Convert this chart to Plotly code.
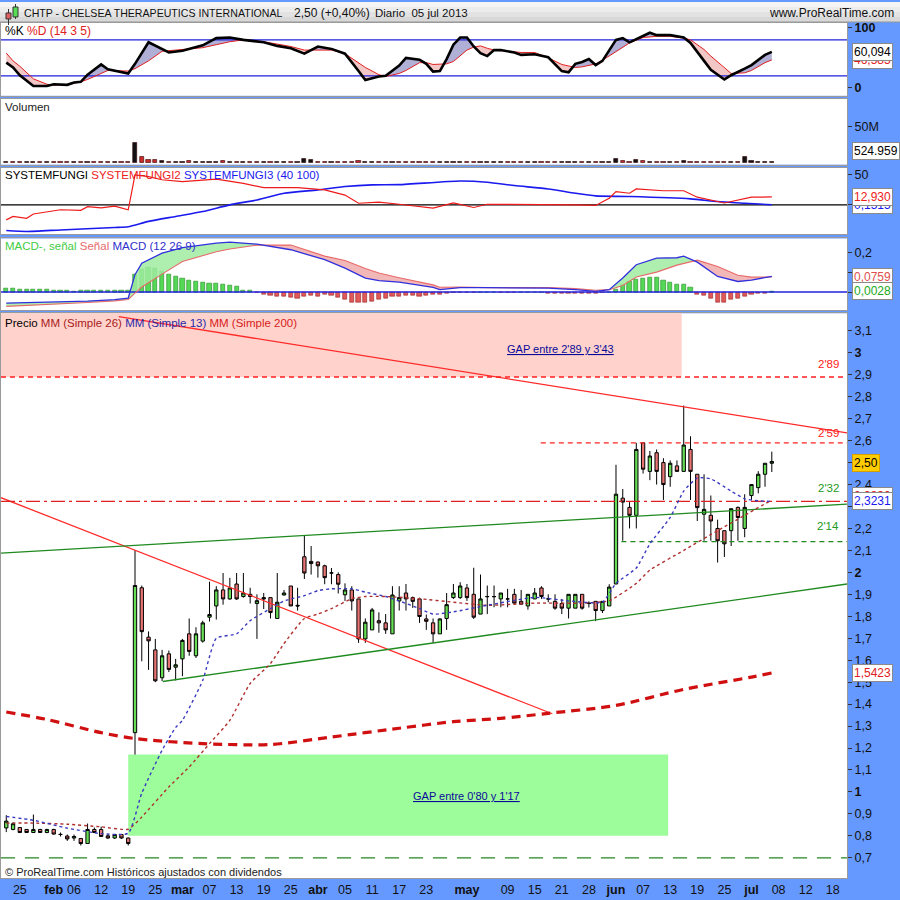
import pandas as pd
import plotly.graph_objects as go

# ---------------- calendar ----------------
holidays = ["2013-02-18", "2013-03-29", "2013-05-27", "2013-07-04"]
all_days = pd.bdate_range("2013-01-23", "2013-07-19")
trading_days = [d.strftime("%Y-%m-%d") for d in all_days if d.strftime("%Y-%m-%d") not in holidays]
day_index = {d: i for i, d in enumerate(trading_days)}

tick_dates = ["2013-01-25", "2013-02-01", "2013-02-06", "2013-02-12", "2013-02-19", "2013-02-25",
              "2013-03-01", "2013-03-07", "2013-03-13", "2013-03-19", "2013-03-25", "2013-04-01",
              "2013-04-05", "2013-04-11", "2013-04-17", "2013-04-23", "2013-05-01", "2013-05-09",
              "2013-05-15", "2013-05-21", "2013-05-28", "2013-06-03", "2013-06-07", "2013-06-13",
              "2013-06-19", "2013-06-25", "2013-07-01", "2013-07-08", "2013-07-12", "2013-07-18"]
tick_labels = ["25", "feb", "06", "12", "19", "25", "mar", "07", "13", "19", "25", "abr", "05", "11",
               "17", "23", "may", "09", "15", "21", "28", "jun", "07", "13", "19", "25", "jul", "08",
               "12", "18"]
month_labels = {"feb", "mar", "abr", "may", "jun", "jul"}

# ---------------- price data ----------------
opens = [0.836, 0.829, 0.838, 0.829, 0.815, 0.829, 0.815, 0.829, 0.807, 0.799,
         0.790, 0.788, 0.765, 0.829, 0.829, 0.800, 0.790, 0.806, 0.790, 1.27,
         1.93, 1.705, 1.647, 1.52, 1.629, 1.568, 1.606, 1.72, 1.62, 1.687,
         1.796, 1.847, 1.92, 1.879, 1.947, 1.89, 1.90, 1.858, 1.885, 1.885,
         1.79, 1.897, 1.938, 1.85, 2.071, 2.05, 2.047, 2.03, 1.998, 1.99,
         1.898, 1.92, 1.879, 1.697, 1.738, 1.78, 1.77, 1.72, 1.87, 1.906,
         1.885, 1.879, 1.788, 1.77, 1.72, 1.79, 1.885, 1.885, 1.929, 1.90,
         1.81, 1.889, 1.889, 1.879, 1.879, 1.90, 1.868, 1.847, 1.879, 1.929,
         1.879, 1.868, 1.858, 1.837, 1.837, 1.90, 1.86, 1.868, 1.826, 1.847,
         1.947, 2.338, 2.296, 2.26, 2.59, 2.46, 2.545, 2.50, 2.436, 2.485,
         2.46, 2.56, 2.447, 2.265, 2.26, 2.20, 2.19, 2.19, 2.296, 2.20,
         2.35, 2.386, 2.447, 2.497]
highs = [0.894, 0.862, 0.840, 0.831, 0.897, 0.832, 0.832, 0.832, 0.815, 0.806,
         0.806, 0.790, 0.856, 0.838, 0.842, 0.806, 0.806, 0.808, 0.792, 2.10,
         1.94, 1.731, 1.697, 1.647, 1.644, 1.606, 1.697, 1.79, 1.75, 1.78,
         1.958, 1.937, 1.997, 1.975, 1.997, 1.997, 1.93, 1.90, 1.906, 1.885,
         1.997, 1.92, 1.938, 1.93, 2.17, 2.12, 2.05, 2.035, 2.02, 2.00,
         1.95, 1.937, 1.879, 1.79, 1.838, 1.818, 1.81, 1.937, 1.937, 1.947,
         1.89, 1.885, 1.808, 1.79, 1.79, 1.906, 1.947, 1.955, 1.947, 2.021,
         1.99, 1.94, 1.94, 1.906, 1.925, 1.925, 1.92, 1.90, 1.929, 1.937,
         1.90, 1.90, 1.879, 1.90, 1.90, 1.90, 1.868, 1.868, 1.868, 1.946,
         2.49, 2.38, 2.32, 2.59, 2.59, 2.553, 2.56, 2.52, 2.51, 2.51,
         2.76, 2.62, 2.447, 2.447, 2.35, 2.24, 2.19, 2.29, 2.30, 2.356,
         2.40, 2.461, 2.497, 2.55]
lows = [0.817, 0.825, 0.813, 0.813, 0.813, 0.813, 0.812, 0.806, 0.797, 0.777,
        0.777, 0.756, 0.765, 0.813, 0.797, 0.786, 0.786, 0.786, 0.756, 1.17,
        1.595, 1.556, 1.50, 1.505, 1.546, 1.508, 1.527, 1.62, 1.61, 1.68,
        1.776, 1.785, 1.853, 1.875, 1.875, 1.885, 1.858, 1.697, 1.833, 1.79,
        1.79, 1.895, 1.847, 1.826, 1.97, 1.99, 1.976, 1.946, 1.946, 1.904,
        1.87, 1.826, 1.679, 1.679, 1.738, 1.725, 1.72, 1.72, 1.826, 1.826,
        1.838, 1.77, 1.738, 1.679, 1.72, 1.738, 1.879, 1.879, 1.87, 1.788,
        1.81, 1.81, 1.841, 1.841, 1.841, 1.855, 1.855, 1.83, 1.879, 1.879,
        1.864, 1.83, 1.81, 1.79, 1.837, 1.83, 1.84, 1.778, 1.815, 1.847,
        1.947, 2.144, 2.20, 2.20, 2.45, 2.42, 2.40, 2.33, 2.39, 2.46,
        2.46, 2.33, 2.234, 2.144, 2.144, 2.045, 2.07, 2.12, 2.144, 2.16,
        2.33, 2.36, 2.39, 2.457]
closes = [0.867, 0.855, 0.815, 0.815, 0.829, 0.815, 0.829, 0.808, 0.806, 0.786,
          0.797, 0.765, 0.829, 0.815, 0.797, 0.790, 0.806, 0.790, 0.765, 1.94,
          1.73, 1.688, 1.506, 1.62, 1.558, 1.579, 1.69, 1.64, 1.72, 1.77,
          1.808, 1.92, 1.879, 1.929, 1.879, 1.906, 1.89, 1.871, 1.879, 1.817,
          1.864, 1.906, 1.847, 1.847, 1.997, 2.04, 2.03, 1.976, 1.997, 1.946,
          1.92, 1.87, 1.697, 1.773, 1.829, 1.77, 1.738, 1.897, 1.885, 1.879,
          1.868, 1.799, 1.777, 1.72, 1.788, 1.853, 1.906, 1.938, 1.885, 1.796,
          1.879, 1.89, 1.89, 1.906, 1.879, 1.86, 1.855, 1.90, 1.906, 1.89,
          1.879, 1.837, 1.837, 1.90, 1.90, 1.837, 1.858, 1.826, 1.868, 1.933,
          2.356, 2.32, 2.26, 2.56, 2.47, 2.53, 2.46, 2.40, 2.497, 2.46,
          2.58, 2.46, 2.295, 2.287, 2.234, 2.144, 2.13, 2.29, 2.25, 2.296,
          2.40, 2.447, 2.497, 2.505]

volume_m = [1.2, 1.0, 1.5, 1.2, 1.0, 1.4, 1.1, 1.3, 1.0, 1.2,
            1.5, 1.3, 1.6, 1.2, 1.0, 1.1, 1.3, 1.2, 1.4, 27.0,
            8.0, 4.3, 3.5, 2.4, 1.8, 1.5, 1.6, 2.4, 1.4, 1.6,
            1.3, 1.4, 2.2, 1.5, 1.3, 1.4, 1.2, 1.5, 1.6, 1.2,
            1.3, 1.4, 1.5, 1.2, 5.7, 3.3, 1.8, 1.5, 1.6, 1.3,
            1.4, 1.5, 2.0, 1.4, 1.3, 1.6, 1.2, 1.4, 1.5, 1.3,
            1.5, 1.2, 1.3, 1.4, 1.2, 1.4, 1.1, 1.3, 1.2, 1.6,
            1.4, 1.3, 1.2, 1.1, 1.5, 1.2, 1.3, 1.2, 1.4, 1.2,
            1.1, 1.3, 1.2, 1.1, 1.3, 1.2, 1.4, 1.6, 1.5, 1.8,
            5.7, 2.5, 1.8, 3.3, 1.9, 1.6, 1.8, 1.5, 1.4, 1.3,
            1.9, 1.7, 1.6, 1.4, 1.5, 1.8, 1.4, 1.5, 1.7, 8.6,
            2.6, 1.6, 1.2, 0.52]

# moving averages (read at sample days)
ma13_idx = [0, 4, 9, 14, 18, 20, 23, 25, 26, 29, 31, 34, 36, 39, 41, 44, 46, 48, 51, 53,
            56, 58, 61, 63, 66, 71, 78, 83, 88, 90, 93, 95, 98, 100, 102, 104, 107, 109, 111, 113]
ma13 = [0.888, 0.871, 0.835, 0.81, 0.812, 0.994, 1.19, 1.294, 1.326, 1.508, 1.70, 1.72, 1.78, 1.835,
        1.87, 1.894, 1.917, 1.925, 1.925, 1.91, 1.89, 1.87, 1.835, 1.81, 1.82, 1.85, 1.886, 1.87,
        1.864, 1.95, 2.02, 2.13, 2.25, 2.37, 2.43, 2.426, 2.37, 2.335, 2.326, 2.323]
ma26_idx = [0, 4, 9, 14, 18, 20, 24, 27, 30, 33, 36, 39, 41, 44, 46, 48, 51, 53, 56, 61,
            66, 71, 78, 85, 89, 93, 95, 100, 105, 109, 113]
ma26 = [0.858, 0.858, 0.853, 0.841, 0.83, 0.886, 1.023, 1.114, 1.22, 1.326, 1.494, 1.585, 1.676,
        1.79, 1.81, 1.835, 1.88, 1.89, 1.89, 1.88, 1.864, 1.85, 1.86, 1.86, 1.871, 1.95, 2.01,
        2.10, 2.19, 2.26, 2.33]
ma200_idx = [0, 6, 14, 19, 29, 39, 48, 58, 66, 73, 80, 90, 100, 110, 113]
ma200 = [1.364, 1.33, 1.27, 1.243, 1.22, 1.216, 1.25, 1.29, 1.32, 1.335, 1.358, 1.394, 1.467,
         1.523, 1.542]

# drawn objects (trend lines, levels, gaps) in day-index / price units
red_trends = [((16.6, 3.165), (124.1, 2.635)), ((-0.78, 2.34), (80.6, 1.356))]
green_trends = [((-0.78, 2.088), (124.1, 2.311)), ((23.1, 1.503), (124.1, 1.947))]
levels = [  # price, start, end, colour, dash
    (2.89, -0.78, 124.1, "#ff2020", "5px,4px"),
    (2.59, 78.9, 124.1, "#ff2020", "5px,4px"),
    (2.323, -0.78, 124.1, "#e02020", "14px,4px,3px,4px"),
    (2.14, 90.8, 124.1, "#228822", "5px,4px"),
    (0.70, -0.78, 124.1, "#228822", "14px,10px"),
]
level_labels = [("2'89", 2.95, "#ff2020"), ("2'59", 2.635, "#ff2020"),
                ("2'32", 2.385, "#229922"), ("2'14", 2.212, "#229922")]
gap_high = (-0.78, 99.7, 2.89, 3.43)
gap_low = (18.0, 97.7, 0.80, 1.17)

# stochastic
stoch_idx = [0, 1, 2, 4, 6, 7, 9, 10, 11, 12, 14, 15, 18, 19, 21, 23, 24, 26, 29, 31,
             33, 35, 38, 40, 42, 44, 46, 48, 50, 52, 53, 55, 56, 58, 59, 61, 62, 63, 64, 65,
             66, 67, 68, 69, 70, 71, 72, 73, 75, 76, 78, 80, 82, 83, 84, 85, 86, 87, 88, 90,
             91, 92, 94, 95, 96, 98, 100, 101, 103, 104, 106, 107, 109, 110, 112, 113]
stoch_k = [42, 34, 21, 3, 3, 6, 5, 9, 10, 22, 39, 31, 24, 40, 76, 64, 59, 62, 71, 83,
           84, 80, 76, 70, 66, 57, 69, 65, 57, 28, 13, 19, 20, 37, 50, 47, 40, 27, 28, 48,
           72, 84, 84, 69, 58, 53, 63, 63, 59, 55, 56, 51, 28, 26, 40, 43, 48, 38, 45, 80,
           83, 76, 86, 92, 88, 88, 84, 75, 45, 30, 14, 21, 32, 38, 55, 60.094]
stoch_d = [58, 45, 36, 15, 6, 4.5, 5, 7, 10, 14, 24, 29, 28, 32, 45, 61, 62, 64, 67, 72,
           77, 80, 77, 73, 69, 63, 63, 63, 57, 42, 34, 22, 19, 24, 29, 42, 42, 39, 39, 40,
           44, 53, 63, 68, 70, 66, 63, 62, 60, 59, 59, 50, 39, 36, 34, 35, 37, 40, 46, 60,
           67, 75, 84, 85, 86, 86, 83, 80, 64, 53, 33, 24, 25, 29, 42, 46.585]

# SYSTEMFUNGI
sf2_idx = [0, 1, 3, 4, 8, 11, 12, 14, 16, 18, 19, 21, 23, 26, 31, 35, 38, 43, 47, 50,
           52, 55, 58, 63, 66, 69, 71, 75, 80, 84, 87, 89, 90, 92, 93, 97, 100, 102, 106, 108,
           110, 113]
sf2 = [-24.5, -19, -22, -15, -8, -9, -3, -5, -2, -8, 49, 46, 41, 38, 42, 35, 28, 28, 24.5, 16,
       2.6, 4.4, 1, -5.4, 3.3, -4.3, 1, 1, 1, 0, -1, 10.8, 21.7, 19, 26, 23, 23, 12.5, 3, 8,
       12.5, 12.93]
sf3_idx = [0, 3, 8, 16, 18, 21, 25, 29, 33, 37, 41, 46, 50, 54, 58, 67, 71, 75, 80, 84,
           87, 92, 101, 105, 109, 113]
sf3 = [-42, -43.5, -41, -37, -35.7, -27, -19, -11, 0, 8, 19, 24.5, 30, 32.6, 33, 39, 37, 31.5,
       26, 19, 14.7, 13.6, 9.8, 5.4, 2.7, 0.15]

# MACD
macd_idx = [0, 8, 12, 16, 18, 19, 20, 23, 26, 31, 33, 37, 42, 47, 50, 53, 55, 58, 63, 64,
            67, 71, 75, 80, 84, 87, 89, 91, 93, 96, 99, 100, 102, 105, 108, 110, 113]
macd_line = [-0.055, -0.05, -0.045, -0.038, -0.03, 0.087, 0.145, 0.195, 0.223, 0.245,
             0.25, 0.24, 0.212, 0.162, 0.12, 0.07, 0.057, 0.05, 0.023, 0.012,
             0.022, 0.022, 0.02, 0.02, 0.012, 0.003, 0.012, 0.07, 0.137, 0.17,
             0.172, 0.18, 0.15, 0.078, 0.053, 0.06, 0.0787]
macd_signal = [-0.072, -0.06, -0.052, -0.044, -0.037, -0.005, 0.025, 0.09, 0.153, 0.202,
               0.216, 0.235, 0.236, 0.18, 0.158, 0.118, 0.095, 0.072, 0.036, 0.024,
               0.025, 0.022, 0.023, 0.022, 0.017, 0.009, 0.012, 0.033, 0.075, 0.1,
               0.135, 0.143, 0.16, 0.128, 0.084, 0.075, 0.0759]
macd_hist = [0.017, 0.017, 0.012, 0.012, 0.012, 0.012, 0.012, 0.007, 0.007, 0.007,
             0.004, 0.007, 0.007, 0.007, 0.007, 0.007, 0.007, 0.007, 0.007, 0.087,
             0.112, 0.123, 0.117, 0.103, 0.087, 0.078, 0.067, 0.057, 0.053, 0.05,
             0.045, 0.042, 0.037, 0.033, 0.027, 0.01, 0.007, -0.003, -0.013, -0.017,
             -0.022, -0.022, -0.027, -0.03, -0.022, -0.017, -0.022, -0.013, -0.017, -0.027,
             -0.038, -0.05, -0.05, -0.05, -0.047, -0.038, -0.03, -0.022, -0.022, -0.018,
             -0.017, -0.022, -0.017, -0.013, -0.01, -0.005, -0.002, -0.003, -0.003, -0.003,
             0.0, 0.0, 0.0, -0.003, -0.003, -0.003, 0.0, 0.0, 0.0, 0.0,
             -0.005, -0.006, -0.006, -0.005, -0.006, -0.005, -0.006, -0.006, -0.004, 0.0,
             0.012, 0.037, 0.053, 0.062, 0.07, 0.073, 0.073, 0.057, 0.05, 0.04,
             0.037, 0.023, -0.01, -0.017, -0.03, -0.05, -0.05, -0.038, -0.03, -0.022,
             -0.013, -0.008, -0.005, 0.0028]

# ---------------- layout geometry ----------------
W, H = 900, 900
FONT = "Liberation Sans, Arial, sans-serif"
X0, X1 = -0.78, 124.1


def py(p):
    return 1 - p / H


def px(p):
    return p / W


XDOM = [px(1), px(847)]
panels = {  # name: (top px, bottom px)
    "stoch": (21, 94), "vol": (97, 163), "sf": (166, 233), "macd": (237, 309), "price": (312, 878)
}

days = list(range(len(closes)))

fig = go.Figure()


def split_fill(xs, a, b):
    ux, uy, dx, dy = [], [], [], []
    for i in range(len(xs) - 1):
        x0, x1 = xs[i], xs[i + 1]
        a0, a1, b0, b1 = a[i], a[i + 1], b[i], b[i + 1]
        d0, d1 = a0 - b0, a1 - b1
        pieces = []
        if d0 * d1 < 0:
            t = d0 / (d0 - d1)
            xc = x0 + t * (x1 - x0)
            yc = a0 + t * (a1 - a0)
            pieces.append((x0, a0, b0, xc, yc, yc, d0))
            pieces.append((xc, yc, yc, x1, a1, b1, d1))
        else:
            pieces.append((x0, a0, b0, x1, a1, b1, d0 + d1))
        for xa, aa, ba, xb, ab, bb, d in pieces:
            tx = [xa, xb, xb, xa, xa, None]
            ty = [aa, ab, bb, ba, aa, None]
            if d >= 0:
                ux += tx
                uy += ty
            else:
                dx += tx
                dy += ty
    return ux, uy, dx, dy


# ---------- stochastic (x2,y2) ----------
ux, uy, dx, dy = split_fill(stoch_idx, stoch_k, stoch_d)
fig.add_trace(go.Scatter(x=ux, y=uy, xaxis="x2", yaxis="y2", fill="toself", mode="none",
                         fillcolor="rgba(150,150,200,0.75)", hoverinfo="skip"))
fig.add_trace(go.Scatter(x=dx, y=dy, xaxis="x2", yaxis="y2", fill="toself", mode="none",
                         fillcolor="rgba(240,180,180,0.75)", hoverinfo="skip"))
for lv in (80, 20):
    fig.add_trace(go.Scatter(x=[X0, X1], y=[lv, lv], xaxis="x2", yaxis="y2", mode="lines",
                             line=dict(color="#2020dd", width=1.2), hoverinfo="skip"))
fig.add_trace(go.Scatter(x=stoch_idx, y=stoch_d, xaxis="x2", yaxis="y2", mode="lines",
                         line=dict(color="#e02020", width=1)))
fig.add_trace(go.Scatter(x=stoch_idx, y=stoch_k, xaxis="x2", yaxis="y2", mode="lines",
                         line=dict(color="black", width=2.6)))

# ---------- volume (x3,y3) ----------
vol_colors = []
for i, c in enumerate(closes):
    vol_colors.append("#111111" if i == 0 or c >= closes[i - 1] else "#cc2a2a")
fig.add_trace(go.Bar(x=days, y=volume_m, xaxis="x3", yaxis="y3", width=0.62,
                     marker=dict(color=vol_colors, line=dict(color="#330000", width=0.6))))

# ---------- systemfungi (x4,y4) ----------
fig.add_trace(go.Scatter(x=[X0, X1], y=[0, 0], xaxis="x4", yaxis="y4", mode="lines",
                         line=dict(color="black", width=1.4)))
fig.add_trace(go.Scatter(x=sf3_idx, y=sf3, xaxis="x4", yaxis="y4", mode="lines",
                         line=dict(color="#1a1aee", width=1.6, shape="spline", smoothing=0.6)))
fig.add_trace(go.Scatter(x=sf2_idx, y=sf2, xaxis="x4", yaxis="y4", mode="lines",
                         line=dict(color="#ee1a1a", width=1.2)))

# ---------- MACD (x5,y5) ----------
ux, uy, dx, dy = split_fill(macd_idx, macd_line, macd_signal)
fig.add_trace(go.Scatter(x=ux, y=uy, xaxis="x5", yaxis="y5", fill="toself", mode="none",
                         fillcolor="rgba(160,235,160,0.85)", hoverinfo="skip"))
fig.add_trace(go.Scatter(x=dx, y=dy, xaxis="x5", yaxis="y5", fill="toself", mode="none",
                         fillcolor="rgba(240,170,170,0.85)", hoverinfo="skip"))
hist_colors = ["#55d855" if v >= 0 else "#e05a5a" for v in macd_hist]
hist_lines = ["#228822" if v >= 0 else "#992222" for v in macd_hist]
fig.add_trace(go.Bar(x=days, y=macd_hist, xaxis="x5", yaxis="y5", width=0.62,
                     marker=dict(color=hist_colors, line=dict(color=hist_lines, width=0.6))))
fig.add_trace(go.Scatter(x=[X0, X1], y=[0, 0], xaxis="x5", yaxis="y5", mode="lines",
                         line=dict(color="#2222dd", width=1.4)))
fig.add_trace(go.Scatter(x=macd_idx, y=macd_signal, xaxis="x5", yaxis="y5", mode="lines",
                         line=dict(color="#e86a6a", width=1.1)))
fig.add_trace(go.Scatter(x=macd_idx, y=macd_line, xaxis="x5", yaxis="y5", mode="lines",
                         line=dict(color="#3030dd", width=1.3)))

# ---------- price (x,y) ----------
for (xa, ya), (xb, yb) in red_trends:
    fig.add_trace(go.Scatter(x=[xa, xb], y=[ya, yb], mode="lines",
                             line=dict(color="#ff2a2a", width=1.3)))
for (xa, ya), (xb, yb) in green_trends:
    fig.add_trace(go.Scatter(x=[xa, xb], y=[ya, yb], mode="lines",
                             line=dict(color="#1f8a1f", width=1.3)))
for price, xs, xe, col, dash in levels:
    fig.add_trace(go.Scatter(x=[xs, xe], y=[price, price], mode="lines",
                             line=dict(color=col, width=1.3, dash=dash)))
fig.add_trace(go.Scatter(x=ma200_idx, y=ma200, mode="lines",
                         line=dict(color="#d01010", width=3.2, dash="9px,6px", shape="spline",
                                   smoothing=0.8)))
fig.add_trace(go.Scatter(x=ma26_idx, y=ma26, mode="lines",
                         line=dict(color="#b03030", width=1.4, dash="3px,3px", shape="spline",
                                   smoothing=0.5)))
fig.add_trace(go.Scatter(x=ma13_idx, y=ma13, mode="lines",
                         line=dict(color="#3a3ac0", width=1.4, dash="3px,3px", shape="spline",
                                   smoothing=0.5)))
fig.add_trace(go.Candlestick(
    x=days, open=opens, high=highs, low=lows, close=closes, whiskerwidth=0,
    increasing=dict(fillcolor="#66dd55", line=dict(color="black", width=1)),
    decreasing=dict(fillcolor="#e87474", line=dict(color="black", width=1))))

# ---------- shapes ----------
shapes = []
# header bar
for k, col in enumerate(["#f4f4f4", "#ececec", "#e2e2e2", "#d8d8d8"]):
    shapes.append(dict(type="rect", xref="paper", yref="paper", x0=0, x1=1,
                       y0=py(5 * (k + 1)), y1=py(5 * k), fillcolor=col, line=dict(width=0),
                       layer="below"))
shapes.append(dict(type="line", xref="paper", yref="paper", x0=0, x1=1, y0=py(20), y1=py(20),
                   line=dict(color="#9a9a9a", width=1)))
# candle icon
shapes.append(dict(type="line", xref="paper", yref="paper", x0=px(8.5), x1=px(8.5), y0=py(23),
                   y1=py(7), line=dict(color="#333", width=1)))
shapes.append(dict(type="rect", xref="paper", yref="paper", x0=px(6), x1=px(11), y0=py(17),
                   y1=py(11), fillcolor="#e06060", line=dict(color="#333", width=1)))
shapes.append(dict(type="line", xref="paper", yref="paper", x0=px(15.5), x1=px(15.5), y0=py(17),
                   y1=py(2), line=dict(color="#333", width=1)))
shapes.append(dict(type="rect", xref="paper", yref="paper", x0=px(13), x1=px(18), y0=py(15),
                   y1=py(5), fillcolor="#55dd55", line=dict(color="#333", width=1)))
# gaps
shapes.append(dict(type="rect", xref="x", yref="y", x0=gap_high[0], x1=gap_high[1],
                   y0=gap_high[2], y1=gap_high[3], fillcolor="#ffd3cb", line=dict(width=0),
                   layer="below"))
shapes.append(dict(type="rect", xref="x", yref="y", x0=gap_low[0], x1=gap_low[1],
                   y0=gap_low[2], y1=gap_low[3], fillcolor="#9dfd9b", line=dict(width=0),
                   layer="below"))

# ---------- annotations ----------
ann = []


def add_text(text, x, y, size=12, color="black", xanchor="left", xref="paper", yref="paper",
             **kw):
    ann.append(dict(text=text, x=x, y=y, xref=xref, yref=yref, xanchor=xanchor, yanchor="middle",
                    showarrow=False, font=dict(family=FONT, size=size, color=color), **kw))


# header
add_text("CHTP - CHELSEA THERAPEUTICS INTERNATIONAL", px(22), py(11), size=10.6, color="#111")
add_text("2,50 (+0,40%)", px(292), py(11), size=12, color="#111")
add_text("Diario  05 jul 2013", px(373), py(11), size=11.5, color="#111")
add_text("www.ProRealTime.com", px(896), py(11), size=12, color="#111", xanchor="right")

# panel legends
add_text("%K <span style='color:#e02020'>%D (14 3 5)</span>", px(3), py(29), size=12)
add_text("Volumen", px(3), py(105), size=11.5, color="#222")
add_text("SYSTEMFUNGI <span style='color:#ee1a1a'>SYSTEMFUNGI2</span> "
         "<span style='color:#1a1aee'>SYSTEMFUNGI3 (40 100)</span>", px(3), py(173), size=11.5)
add_text("<span style='color:#44cc44'>MACD-, señal</span> <span style='color:#e86a6a'>Señal</span> "
         "<span style='color:#3030cc'>MACD (12 26 9)</span>", px(3), py(245), size=11.5)
add_text("Precio <span style='color:#a82020'>MM (Simple 26)</span> "
         "<span style='color:#2828a8'>MM (Simple 13)</span> "
         "<span style='color:#d82020'>MM (Simple 200)</span>", px(3), py(322), size=11.5)
add_text("© ProRealTime.com Históricos ajustados con dividendos", px(3), py(872), size=11,
         color="#222")

# level labels
for txt, p, col in level_labels:
    add_text(txt, px(841), p, size=11.5, color=col, xanchor="right", yref="y")

# gap labels
ann.append(dict(text="GAP entre 2'89 y 3'43", x=81.8, y=3.016, xref="x", yref="y",
                showarrow=False, font=dict(family=FONT, size=11, color="#0a0a9a",
                                           lineposition="under")))
ann.append(dict(text="GAP entre 0'80 y 1'17", x=68.0, y=0.98, xref="x", yref="y",
                showarrow=False, font=dict(family=FONT, size=11, color="#0a0a9a",
                                           lineposition="under")))


def value_box(text, y, yref, color, bg="white", border="#8a8a8a"):
    ann.append(dict(text=text, x=px(852), y=y, xref="paper", yref=yref, xanchor="left",
                    yanchor="middle", showarrow=False, bgcolor=bg, bordercolor=border,
                    borderwidth=1, borderpad=1, font=dict(family=FONT, size=12, color=color)))


value_box("46,585", 46.585, "y2", "#e02020")
value_box("60,094", 60.094, "y2", "black")
value_box("524.959", py(149), "paper", "black")
value_box("0,1515", 0.15, "y4", "#1a1aee")
value_box("12,930", 12.93, "y4", "#ee1a1a")
value_box("0,0759", 0.0759, "y5", "#e05050")
value_box("0,0028", 0.0028, "y5", "#22aa22")
value_box("2,50", 2.5, "y", "black", bg="#ffcc00", border="#d4a000")
value_box("2,3330", 2.35, "y", "#e02020")
value_box("2,3231", 2.3231, "y", "#1a1aee")
value_box("1,5423", 1.5423, "y", "#e02020")

# ---------- axes ----------
tickvals_x = [day_index[d] for d in tick_dates]
ticktext_x = ["<b>%s</b>" % t if t in month_labels else t for t in tick_labels]

covered_price_ticks = {2.5, 2.3}  # hidden behind the value boxes, as in the original
price_ticks = [round(0.7 + 0.1 * i, 1) for i in range(25)]
price_text = []
for v in price_ticks:
    if v in covered_price_ticks:
        price_text.append("")
    elif abs(v - round(v)) < 1e-9:
        price_text.append("<b>%d</b>" % round(v))
    else:
        price_text.append(("%.1f" % v).replace(".", ","))

axis_common = dict(showgrid=False, zeroline=False, showline=True, mirror=True,
                   linecolor="#9a9a9a", linewidth=1)
yaxis_common = dict(axis_common, side="right", ticks="outside", ticklen=4, tickcolor="#333",
                    tickfont=dict(family=FONT, size=12.5, color="#111"), fixedrange=True)


def dom(name):
    top, bot = panels[name]
    return [py(bot), py(top)]


layout = dict(
    width=W, height=H, autosize=False, margin=dict(l=0, r=0, t=0, b=0),
    paper_bgcolor="#6699ff", plot_bgcolor="white", showlegend=False, bargap=0,
    font=dict(family=FONT, size=12, color="#111"),
    shapes=shapes, annotations=ann,
    xaxis=dict(axis_common, domain=XDOM, anchor="y", range=[X0, X1], tickvals=tickvals_x,
               ticktext=ticktext_x, ticks="", tickfont=dict(family=FONT, size=12.5, color="#111"),
               rangeslider=dict(visible=False)),
    yaxis=dict(yaxis_common, domain=dom("price"), anchor="x", range=[0.6077, 3.18],
               tickvals=price_ticks, ticktext=price_text),
    yaxis2=dict(yaxis_common, domain=dom("stoch"), anchor="x2", range=[-13.3, 108.3],
                tickvals=[0, 100], ticktext=["<b>0</b>", "<b>100</b>"]),
    yaxis3=dict(yaxis_common, domain=dom("vol"), anchor="x3", range=[-2.8, 88.9],
                tickvals=[50], ticktext=["50M"]),
    yaxis4=dict(yaxis_common, domain=dom("sf"), anchor="x4", range=[-48.4, 60.8],
                tickvals=[0, 50], ticktext=["", "50"]),
    yaxis5=dict(yaxis_common, domain=dom("macd"), anchor="x5", range=[-0.0915, 0.2685],
                tickvals=[0, 0.1, 0.2], ticktext=["", "", "0,2"]),
)
for n, name in zip([2, 3, 4, 5], ["stoch", "vol", "sf", "macd"]):
    layout["xaxis%d" % n] = dict(axis_common, domain=XDOM, anchor="y%d" % n, matches="x",
                                 range=[X0, X1], showticklabels=False, ticks="")
fig.update_layout(**layout)

fig.write_html("out.html", config={"displayModeBar": False},
               post_script="document.body.style.margin='0px';"
                           "document.body.style.overflow='hidden';")
